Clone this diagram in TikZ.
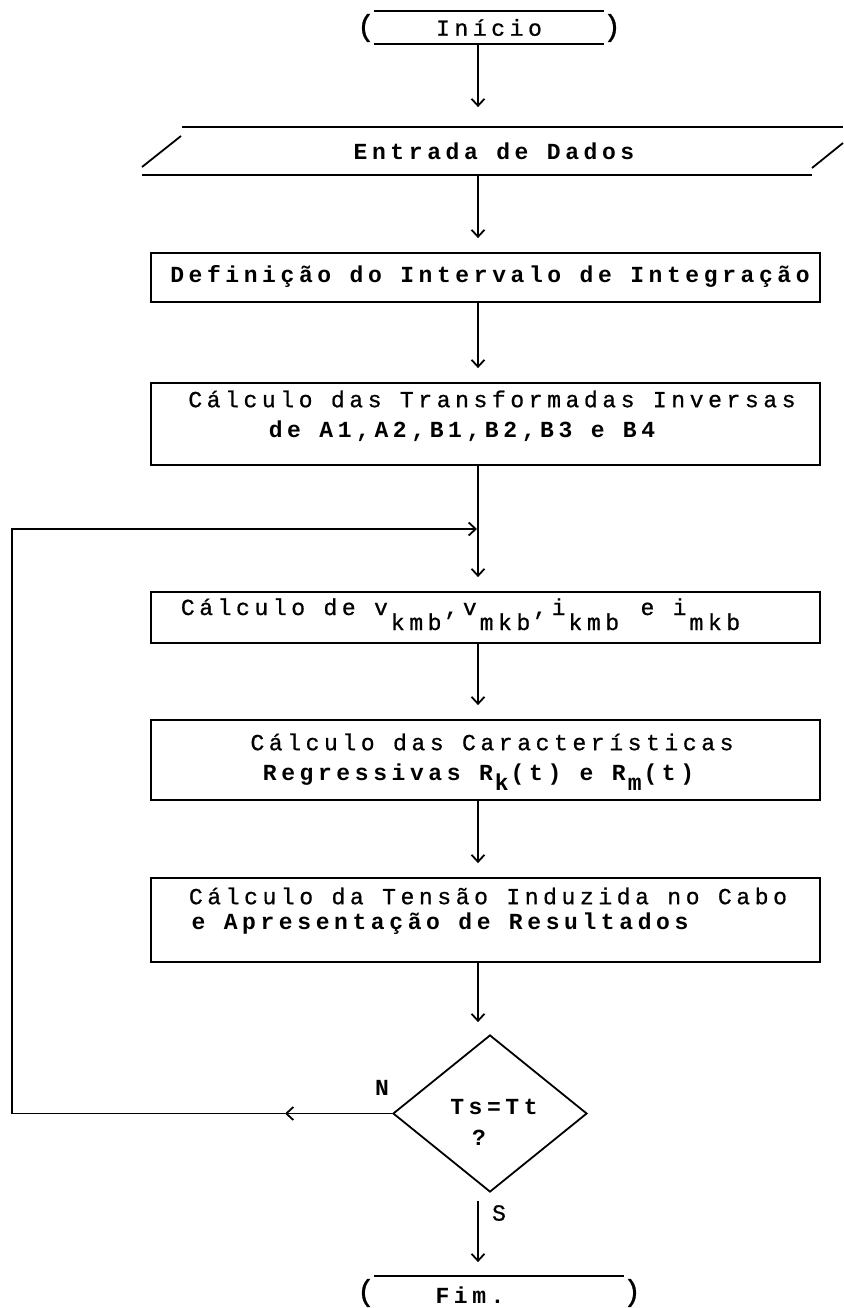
\documentclass[tikz,border=0pt]{standalone}
\usepackage{fontspec}
\usetikzlibrary{arrows.meta,shapes.geometric,calc}
\newfontfamily\plotfont[LetterSpace=20,FakeBold=0.8]{Liberation Mono}
\newfontfamily\plotbold[LetterSpace=20]{Liberation Mono Bold}
\newcommand\sbx[1]{\hspace{3pt}\raisebox{-15pt}{#1}\hspace{3pt}}
\newcommand\sbr[1]{\hspace{2pt}\raisebox{-10pt}{#1}\hspace{2pt}}
\begin{document}
\begin{tikzpicture}[x=1pt,y=-1pt,line width=1.8pt,
  txt/.style={font=\plotfont\fontsize{23}{26}\selectfont,inner sep=0pt},
  btxt/.style={font=\plotbold\fontsize{23}{26}\selectfont,inner sep=0pt},
  paren/.style={font=\plotfont\fontsize{30}{32}\selectfont,inner sep=0pt},
  procbox/.style={draw,rectangle,inner sep=0pt,minimum width=669pt},
  barb/.style={-{Straight Barb[length=7pt,width=13pt]}},
  flow/.style={barb,shorten >=14pt},
]
\useasboundingbox (0,0) rectangle (843,1308);
\coordinate (sp) at (478,0);

% Inicio terminal
\node[txt,minimum width=228pt,minimum height=31pt] (ini) at (489,27.5) {Início};
\draw (ini.north west) -- (ini.north east);
\draw (ini.south west) -- (ini.south east);
\node[paren] (ipl) at (366,28) {(};
\node[paren] (ipr) at (612,28) {)};

% Entrada de Dados
\node[btxt,minimum width=701pt,minimum height=48pt] (ent) at (494,151) {Entrada de Dados};
\draw (182,127) -- (843,127);
\draw (142,175) -- (812,175);
\draw (142,167) -- (181,136);
\draw (812,168) -- (843,143);

% Definicao
\node[procbox,minimum height=49pt] (def) at (485.5,277.5) {};
\node[btxt] at (490,276) {Definição do Intervalo de Integração};

% Transformadas
\node[procbox,minimum height=82pt] (tra) at (485.5,424) {};
\node[txt] at (492,399) {Cálculo das Transformadas Inversas};
\node[btxt] at (462,431) {de A1,A2,B1,B2,B3 e B4};

% v,i
\node[procbox,minimum height=51pt] (vk) at (485.5,617.5) {};
\node[txt,anchor=base west] at (180,615) {Cálculo de v\sbx{kmb},v\sbx{mkb},i\sbx{kmb} e i\sbx{mkb}};

% Caracteristicas
\node[procbox,minimum height=80pt] (car) at (485.5,760) {};
\node[txt] at (492,742) {Cálculo das Características};
\node[btxt,anchor=base west] at (262,780) {Regressivas R\sbr{k}(t) e R\sbr{m}(t)};

% Tensao
\node[procbox,minimum height=84pt] (ten) at (485.5,920) {};
\node[txt] at (488,896) {Cálculo da Tensão Induzida no Cabo};
\node[btxt] at (440,924) {e Apresentação de Resultados};

% Decision
\node[draw,diamond,inner sep=0pt,minimum width=194pt,minimum height=157pt] (dec) at (490,1113.5) {};
\node[btxt] at (494,1107) {Ts=Tt};
\node[btxt] at (479,1138) {?};

% Fim terminal
\node[btxt,minimum width=248pt,minimum height=32pt] (fim) at (499,1293) {};
\node[btxt] at (470,1295) {Fim.};
\draw (fim.north west) -- (fim.north east);
\node[paren] (fpl) at (366,1293) {(};
\node[paren] (fpr) at (632,1293) {)};

% main flow
\draw[flow,shorten >=19pt] (ini.south -| sp) -- (ent.north -| sp);
\draw[flow] (ent.south -| sp) -- (def.north -| sp);
\draw[flow] (def.south -| sp) -- (tra.north -| sp);
\draw[flow] (tra.south -| sp) -- (vk.north -| sp);
\draw[flow] (vk.south -| sp) -- (car.north -| sp);
\draw[flow] (car.south -| sp) -- (ten.north -| sp);
\draw[flow,shorten >=12pt] (ten.south -| sp) -- (dec.north -| sp);
\draw[flow,shorten <=8pt] (dec.south -| sp) -- (fim.north -| sp);
\node[txt] (slab) at (499,1213) {S};

% loop back
\coordinate (nmid) at (285,1113.5);
\coordinate (join) at (477,529);
\draw[barb] (dec.west) -- (nmid);
\draw[barb] (nmid) -| (12,529) -- (join);
\node[btxt] (nlab) at (382,1088) {N};
\end{tikzpicture}
\end{document}
